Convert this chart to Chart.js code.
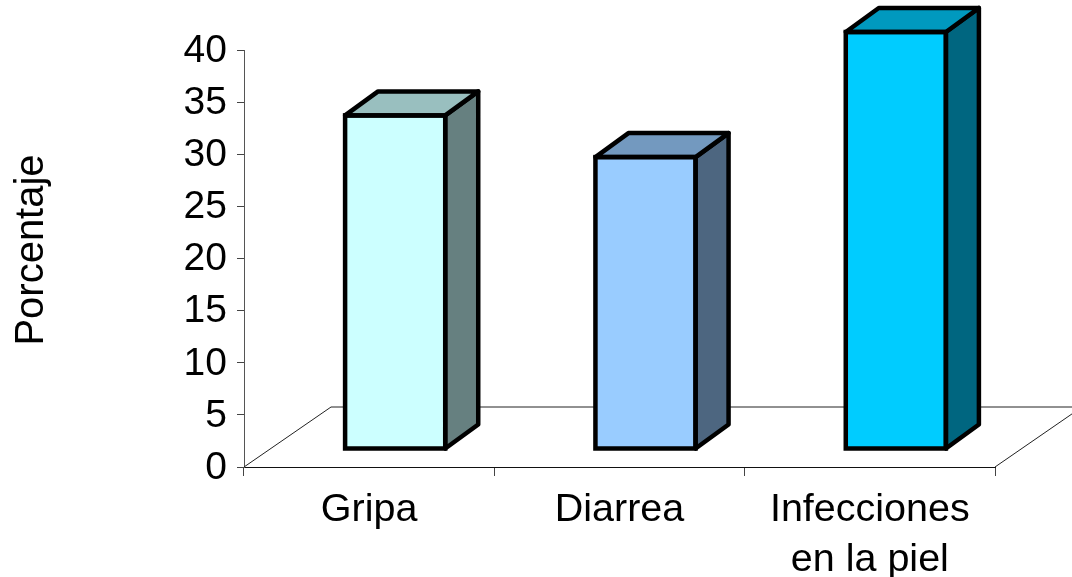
<!DOCTYPE html>
<html>
<head>
<meta charset="utf-8">
<style>
  html, body { margin: 0; padding: 0; background: #fff; }
  canvas { display: block; }
</style>
<script src="https://cdn.jsdelivr.net/npm/chart.js@4/dist/chart.umd.min.js"></script>
</head>
<body>
<canvas id="chart" width="1072" height="577"></canvas>
<script>
const categories = ['Gripa', 'Diarrea', ['Infecciones', 'en la piel']];
const porcentaje = [32, 28, 40];
const yTitle = 'Porcentaje';

const frontColors = ['#CCFFFF', '#99CCFF', '#00CCFF'];
const topColors = ['#99BFBF', '#7399BF', '#0099BF'];
const sideColors = ['#668080', '#4D6680', '#006680'];

// desplazamientos del efecto 3D
const barShiftX = 26;
const barShiftY = -18;
const depthX = 33;
const depthY = -24;
const floorDepthX = 87;
const floorDepthY = -60;

function face(ctx, pts, fill) {
    ctx.beginPath();
    pts.forEach((p, i) => i ? ctx.lineTo(p[0], p[1]) : ctx.moveTo(p[0], p[1]));
    ctx.closePath();
    ctx.fillStyle = fill;
    ctx.fill();
    ctx.stroke();
}

const fake3d = {
    id: 'fake3d',
    beforeDatasetsDraw(chart) {
        // piso
        const { ctx, chartArea: a } = chart;
        ctx.save();
        ctx.strokeStyle = '#222';
        ctx.lineWidth = 1;
        ctx.beginPath();
        ctx.moveTo(a.left, a.bottom);
        ctx.lineTo(a.left + floorDepthX, a.bottom + floorDepthY);
        ctx.lineTo(a.right + floorDepthX, a.bottom + floorDepthY);
        ctx.lineTo(a.right, a.bottom);
        ctx.stroke();
        ctx.restore();
    },
    beforeDatasetDraw(chart) {
        chart.ctx.save();
        chart.ctx.translate(barShiftX, barShiftY);
    },
    afterDatasetDraw(chart, args) {
        const ctx = chart.ctx;
        ctx.strokeStyle = '#000';
        ctx.lineWidth = 4.5;
        ctx.lineJoin = 'round';
        args.meta.data.forEach((bar, i) => {
            const l = bar.x - bar.width / 2;
            const r = bar.x + bar.width / 2;
            const t = bar.y;
            const b = bar.base;
            face(ctx, [[r, t], [r + depthX, t + depthY], [r + depthX, b + depthY], [r, b]], sideColors[i]);
            face(ctx, [[l, t], [l + depthX, t + depthY], [r + depthX, t + depthY], [r, t]], topColors[i]);
            ctx.lineJoin = 'miter';
            ctx.strokeRect(l, t, r - l, b - t);
            ctx.lineJoin = 'round';
        });
        ctx.restore();
    },
    afterDraw(chart) {
        const ctx = chart.ctx;
        ctx.save();
        ctx.translate(32, 250);
        ctx.rotate(-Math.PI / 2);
        ctx.font = '40px "Liberation Sans"';
        ctx.fillStyle = '#000';
        ctx.textAlign = 'center';
        ctx.textBaseline = 'middle';
        ctx.fillText(yTitle, 0, 0);
        ctx.restore();
    }
};

const chart = new Chart(document.getElementById('chart').getContext('2d'), {
    type: 'bar',
    data: {
        labels: categories,
        datasets: [{
            label: yTitle,
            data: porcentaje,
            backgroundColor: frontColors,
            borderWidth: 0,
            categoryPercentage: 1,
            barPercentage: 0.4,
            clip: false
        }]
    },
    options: {
        responsive: false,
        animation: false,
        layout: { padding: { top: 50, right: 77, left: 0, bottom: 0 } },
        plugins: { legend: { display: false }, tooltip: { enabled: false } },
        scales: {
            x: {
                afterFit(s) { s.height = 110; },
                border: { color: '#111', width: 1 },
                grid: { drawOnChartArea: false, tickLength: 9, tickColor: '#444' },
                ticks: {
                    color: '#000',
                    padding: 9,
                    maxRotation: 0,
                    autoSkip: false,
                    font: { family: '"Liberation Sans"', size: 39.5, lineHeight: 1.266 }
                }
            },
            y: {
                min: 0,
                max: 40,
                afterFit(s) { s.width = 244; },
                border: { color: '#555', width: 1 },
                grid: { drawOnChartArea: false, tickLength: 7, tickColor: '#444' },
                ticks: {
                    stepSize: 5,
                    color: '#000',
                    padding: 10,
                    font: { family: '"Liberation Sans"', size: 39 }
                }
            }
        }
    },
    plugins: [fake3d]
});

// los numeros del eje y van un poco mas abajo que la marca
const yScale = chart.scales.y;
const drawLabelsY = yScale.drawLabels.bind(yScale);
yScale.drawLabels = function(area) {
    chart.ctx.save();
    chart.ctx.translate(0, 1);
    drawLabelsY(area);
    chart.ctx.restore();
};
chart.draw();
</script>
</body>
</html>
